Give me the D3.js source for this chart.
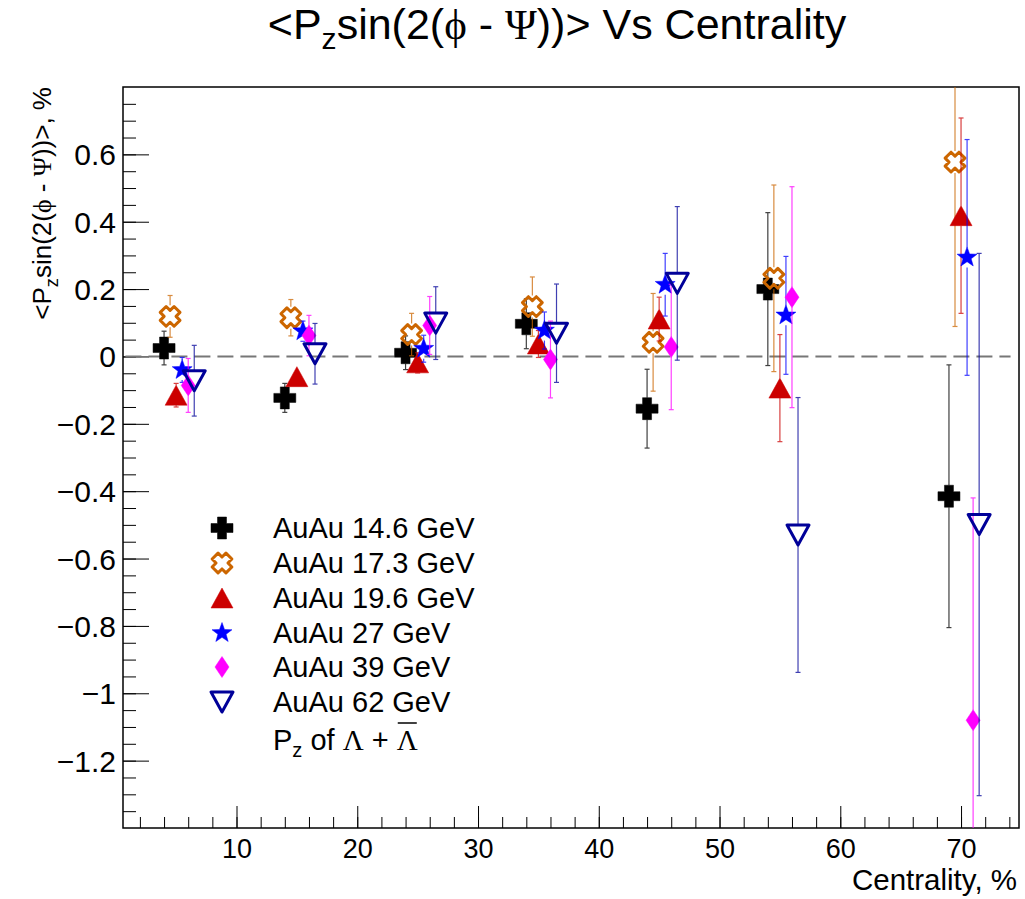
<!DOCTYPE html>
<html>
    <head>
        <meta charset="utf-8" />
        <script src="https://d3js.org/d3.v7.min.js"></script>
        <style type="text/css">
            body {
                margin: 0;
                background-color: white;
            }

            svg#mainSvg {
                width: 1025px;
                height: 899px;
                display: block;
                font-family: "Liberation Sans", Arial, sans-serif;
            }

            .greek {
                font-family: "Liberation Serif", "DejaVu Serif", serif;
            }
        </style>
    </head>

    <body>
        <svg id="mainSvg"></svg>

        <!-- Data -->
        <script type="text/javascript">
            // Centrality positions (shifted per energy, as in the plot)
            const cent146 = [4, 14, 24, 34, 44, 54, 69];
            const cent173 = [4.5, 14.5, 24.5, 34.5, 44.5, 54.5, 69.5];
            const cent196 = [5, 15, 25, 35, 45, 55, 70];
            const cent27 = [5.5, 15.5, 25.5, 35.5, 45.5, 55.5, 70.5];
            const cent39 = [6, 16, 26, 36, 46, 56, 71];
            const cent62 = [6.5, 16.5, 26.5, 36.5, 46.5, 56.5, 71.5];

            // <Pz sin(2(phi - Psi))>, %
            const val146 = [0.025, -0.123, 0.011, 0.097, -0.155, 0.2, -0.415];
            const err146 = [0.05, 0.043, 0.05, 0.074, 0.117, 0.227, 0.39];

            const val173 = [0.119, 0.115, 0.065, 0.148, 0.042, 0.232, 0.577];
            const err173 = [0.062, 0.054, 0.063, 0.088, 0.145, 0.277, 0.488];

            const val196 = [-0.115, -0.06, -0.019, 0.037, 0.111, -0.094, 0.418];
            const err196 = [0.035, 0.02, 0.03, 0.04, 0.065, 0.159, 0.29];

            const val27 = [-0.04, 0.075, 0.023, 0.077, 0.213, 0.122, 0.294];
            const err27 = [0.037, 0.03, 0.04, 0.055, 0.093, 0.175, 0.35];

            const val39 = [-0.086, 0.062, 0.092, -0.009, 0.028, 0.176, -1.08];
            const err39 = [0.08, 0.06, 0.086, 0.114, 0.186, 0.328, 0.66];

            const val62 = [-0.072, 0.008, 0.099, 0.069, 0.217, -0.53, -0.499];
            const err62 = [0.105, 0.09, 0.108, 0.146, 0.228, 0.408, 0.805];

            const legendLabels = [
                "AuAu 14.6 GeV",
                "AuAu 17.3 GeV",
                "AuAu 19.6 GeV",
                "AuAu 27 GeV",
                "AuAu 39 GeV",
                "AuAu 62 GeV",
            ];

            const xTicks = [10, 20, 30, 40, 50, 60, 70];
            const yTicks = [-1.2, -1, -0.8, -0.6, -0.4, -0.2, 0, 0.2, 0.4, 0.6];
        </script>

        <!-- Frame, scales and axes -->
        <script type="text/javascript">
            const svg = d3.select("#mainSvg");

            const fLeft = 123,
                fRight = 1019,
                fTop = 87,
                fBottom = 828;

            const x = d3.scaleLinear().domain([0.6, 74.8]).range([fLeft, fRight]);
            const y = d3.scaleLinear().domain([-1.4, 0.8]).range([fBottom, fTop]);

            svg.append("clipPath")
                .attr("id", "frameClip")
                .append("rect")
                .attr("x", fLeft)
                .attr("y", fTop)
                .attr("width", fRight - fLeft)
                .attr("height", fBottom - fTop);

            const fmt = (d) => d3.format("~g")(d);

            // x axis: major and minor ticks pointing inward
            svg.append("g")
                .attr("transform", "translate(0," + fBottom + ")")
                .call(d3.axisBottom(x).tickValues(d3.range(2, 75, 2)).tickSize(-11).tickFormat(""))
                .call((g) => g.select(".domain").remove());
            svg.append("g")
                .attr("transform", "translate(0," + fBottom + ")")
                .call(d3.axisBottom(x).tickValues(xTicks).tickSize(-22).tickFormat(fmt))
                .call((g) => g.select(".domain").remove())
                .call((g) =>
                    g.selectAll("text")
                        .attr("y", 30)
                        .attr("dy", 0)
                        .style("font-size", "27px")
                        .style("font-family", "Liberation Sans, Arial, sans-serif")
                );

            // y axis
            svg.append("g")
                .attr("transform", "translate(" + fLeft + ",0)")
                .call(d3.axisLeft(y).tickValues(d3.range(-27, 16).map((k) => k * 0.05)).tickSize(-13).tickFormat(""))
                .call((g) => g.select(".domain").remove());
            svg.append("g")
                .attr("transform", "translate(" + fLeft + ",0)")
                .call(d3.axisLeft(y).tickValues(yTicks).tickSize(-26).tickFormat(fmt))
                .call((g) => g.select(".domain").remove())
                .call((g) =>
                    g.selectAll("text")
                        .attr("x", -7)
                        .attr("dy", "0.35em")
                        .style("font-size", "30px")
                        .style("font-family", "Liberation Sans, Arial, sans-serif")
                );
            svg.selectAll(".tick line").attr("stroke", "black").attr("stroke-width", 1);

            // Frame
            svg.append("rect")
                .attr("x", fLeft)
                .attr("y", fTop)
                .attr("width", fRight - fLeft)
                .attr("height", fBottom - fTop)
                .attr("fill", "none")
                .attr("stroke", "black")
                .attr("stroke-width", 1.5);

            // Zero line
            svg.append("line")
                .attr("x1", x(0.8))
                .attr("x2", x(74.1))
                .attr("y1", y(0))
                .attr("y2", y(0))
                .attr("stroke", "#777")
                .attr("stroke-width", 2)
                .attr("stroke-dasharray", "16,7");
        </script>

        <!-- Titles -->
        <script type="text/javascript">
            // Adds "<P_zsin(2(phi - Psi))>" to a text element
            function addLabel(t, sub, fs) {
                t.append("tspan").text("<P");
                t.append("tspan").attr("dy", sub).style("font-size", fs * 0.7 + "px").text("z");
                t.append("tspan").attr("dy", -sub).text("sin(2(");
                t.append("tspan").attr("class", "greek").text("\u03D5");
                t.append("tspan").text(" - ");
                t.append("tspan").attr("class", "greek").text("\u03A8");
                t.append("tspan").text("))>");
            }

            const title = svg.append("text")
                .attr("x", 557)
                .attr("y", 39)
                .attr("text-anchor", "middle")
                .style("font-size", "43px");
            addLabel(title, 10, 43);
            title.append("tspan").text(" Vs Centrality");

            const ylab = svg.append("text")
                .attr("transform", "translate(51," + fTop + ") rotate(-90)")
                .attr("text-anchor", "end")
                .style("font-size", "26px");
            addLabel(ylab, 7, 26);
            ylab.append("tspan").text(", %");

            svg.append("text")
                .attr("x", 1017)
                .attr("y", 890)
                .attr("text-anchor", "end")
                .style("font-size", "29.5px")
                .text("Centrality, %");
        </script>

        <!-- Markers and points -->
        <script type="text/javascript">
            function starPath(R, r) {
                let p = [];
                for (let k = 0; k < 10; k++) {
                    let a = (Math.PI / 5) * k - Math.PI / 2;
                    let rr = k % 2 === 0 ? R : r;
                    p.push([rr * Math.cos(a), rr * Math.sin(a)]);
                }
                return "M" + p.map((q) => q.join(",")).join("L") + "Z";
            }
            function plusPath(a, b, rot) {
                const pts = [
                    [-b, -a], [b, -a], [b, -b], [a, -b], [a, b], [b, b],
                    [b, a], [-b, a], [-b, b], [-a, b], [-a, -b], [-b, -b],
                ];
                const c = Math.cos(rot),
                    s = Math.sin(rot);
                return "M" + pts.map((q) => [q[0] * c - q[1] * s, q[0] * s + q[1] * c].join(",")).join("L") + "Z";
            }

            const series = [
                { cx: cent146, v: val146, e: err146, color: "#000000", path: plusPath(11, 4.5, 0), fill: true, gap: 11 },
                { cx: cent173, v: val173, e: err173, color: "#cc6600", path: plusPath(9.8, 4.2, Math.PI / 4), fill: false, gap: 11 },
                { cx: cent196, v: val196, e: err196, color: "#cc0000", path: "M0,-10L11,10L-11,10Z", fill: true, gap: 10 },
                { cx: cent27, v: val27, e: err27, color: "#0000ff", path: starPath(10.5, 4.3), fill: true, gap: 10 },
                { cx: cent39, v: val39, e: err39, color: "#ff00ff", path: "M0,-10.5L7,0L0,10.5L-7,0Z", fill: true, gap: 10 },
                { cx: cent62, v: val62, e: err62, color: "#000099", path: "M-11,-10L11,-10L0,10Z", fill: false, gap: 10 },
            ];

            const plot = svg.append("g").attr("clip-path", "url(#frameClip)");

            series.forEach((s) => {
                const pts = s.cx.map((c, i) => ({ c: c, v: s.v[i], e: s.e[i] }));
                const g = plot.append("g");

                // Error bars, leaving the marker area free
                const eb = g.append("g")
                    .attr("stroke", s.color)
                    .attr("stroke-width", 1.2)
                    .attr("opacity", 0.75);
                pts.forEach((d) => {
                    const px = x(d.c),
                        py = y(d.v),
                        yt = y(d.v + d.e),
                        yb = y(d.v - d.e);
                    if (py - s.gap > yt) {
                        eb.append("line").attr("x1", px).attr("x2", px).attr("y1", yt).attr("y2", py - s.gap);
                        eb.append("line").attr("x1", px - 2.5).attr("x2", px + 2.5).attr("y1", yt).attr("y2", yt);
                    }
                    if (py + s.gap < yb) {
                        eb.append("line").attr("x1", px).attr("x2", px).attr("y1", py + s.gap).attr("y2", yb);
                        eb.append("line").attr("x1", px - 2.5).attr("x2", px + 2.5).attr("y1", yb).attr("y2", yb);
                    }
                });

                g.selectAll("path.mk")
                    .data(pts)
                    .enter()
                    .append("path")
                    .attr("class", "mk")
                    .attr("d", s.path)
                    .attr("transform", (d) => "translate(" + x(d.c) + "," + y(d.v) + ")")
                    .attr("fill", s.fill ? s.color : "none")
                    .attr("stroke", s.color)
                    .attr("stroke-width", s.fill ? 0.5 : 3)
                    .attr("stroke-linejoin", "round");
            });
        </script>

        <!-- Legend -->
        <script type="text/javascript">
            const legY = [528, 563, 598, 633, 667, 702];
            const leg = svg.append("g");

            series.forEach((s, i) => {
                leg.append("path")
                    .attr("d", s.path)
                    .attr("transform", "translate(222," + legY[i] + ")")
                    .attr("fill", s.fill ? s.color : "none")
                    .attr("stroke", s.color)
                    .attr("stroke-width", s.fill ? 0.5 : 3)
                    .attr("stroke-linejoin", "round");
                leg.append("text")
                    .attr("x", 273)
                    .attr("y", legY[i] + 10)
                    .style("font-size", "29px")
                    .text(legendLabels[i]);
            });

            // P_z of Lambda + anti-Lambda
            const lt = leg.append("text")
                .attr("x", 273)
                .attr("y", 750)
                .style("font-size", "29px");
            lt.append("tspan").text("P");
            lt.append("tspan").attr("dy", 7).style("font-size", "20px").text("z");
            lt.append("tspan").attr("dy", -7).text(" of ");
            lt.append("tspan").attr("class", "greek").text("\u039B");
            lt.append("tspan").text(" + ");
            lt.append("tspan").attr("class", "greek").text("\u039B");

            // Bar over the last Lambda
            const n = lt.node();
            const ext = n.getExtentOfChar(n.getNumberOfChars() - 1);
            leg.append("line")
                .attr("x1", ext.x + 1)
                .attr("x2", ext.x + ext.width - 1)
                .attr("y1", 723)
                .attr("y2", 723)
                .attr("stroke", "black")
                .attr("stroke-width", 1.5);
        </script>
    </body>
</html>
